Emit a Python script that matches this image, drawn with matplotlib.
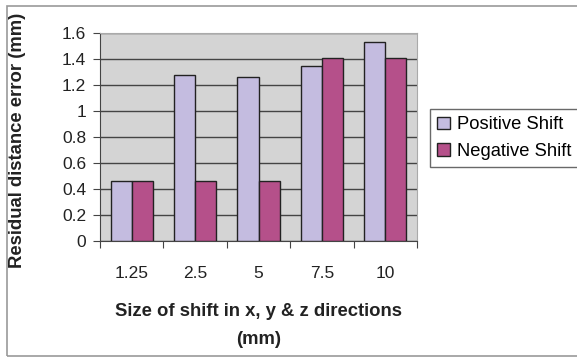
import matplotlib.pyplot as plt
import numpy as np
from matplotlib.patches import Rectangle

plt.rcParams['font.family'] = ['Liberation Sans', 'DejaVu Sans']

shift_sizes = ['1.25', '2.5', '5', '7.5', '10']
positive_shift = [0.46, 1.28, 1.26, 1.35, 1.53]
negative_shift = [0.46, 0.46, 0.46, 1.41, 1.41]

fig = plt.figure(figsize=(5.77, 3.58), dpi=100)
ax = fig.add_axes([100 / 577, 1 - 241 / 358, 317 / 577, 208 / 358])

x = np.arange(len(shift_sizes))
w = 1 / 3
ax.bar(x - w / 2, positive_shift, w, color='#c4bce0', edgecolor='#222222',
       linewidth=1, label='Positive Shift', zorder=3)
ax.bar(x + w / 2, negative_shift, w, color='#b5508a', edgecolor='#222222',
       linewidth=1, label='Negative Shift', zorder=3)

ax.set_facecolor('#d4d4d4')
ax.set_xlim(-0.5, len(shift_sizes) - 0.5)
ax.set_ylim(0, 1.6)
ax.set_yticks(np.arange(0, 1.61, 0.2))
ax.set_yticklabels(['0', '0.2', '0.4', '0.6', '0.8', '1', '1.2', '1.4', '1.6'])
ax.yaxis.grid(True, color='#444444', linewidth=1)
ax.set_axisbelow(True)

# category labels between boundary ticks
ax.set_xticks(np.arange(-0.5, len(shift_sizes)), minor=False)
ax.set_xticklabels([])
ax.set_xticks(x, minor=True)
ax.set_xticklabels(shift_sizes, minor=True)
ax.tick_params(axis='x', which='minor', length=0, pad=18, labelsize=12.5, labelcolor='#222222')
ax.tick_params(axis='x', which='major', length=5, color='#444444')
ax.tick_params(axis='y', length=5, color='#444444', labelsize=12.5, labelcolor='#222222', pad=5)

for side in ['top', 'right']:
    ax.spines[side].set_color('#aaaaaa')
ax.spines['left'].set_color('#444444')
ax.spines['bottom'].set_color('#444444')

ax.set_xlabel('Size of shift in x, y & z directions\n(mm)', fontsize=13.3,
              fontweight='bold', labelpad=16, color='#222222', linespacing=1.85)
fig.text(18 / 577, 1 - 140 / 358, 'Residual distance error (mm)', rotation=90,
         fontsize=13.3, fontweight='bold', color='#222222', ha='center', va='center')

leg = ax.legend(loc='center left', bbox_to_anchor=(430 / 577, 1 - 138 / 358),
                bbox_transform=fig.transFigure, frameon=True, fancybox=False,
                fontsize=13.2, handlelength=0.7, handleheight=0.7,
                handletextpad=0.35, borderpad=0.4, labelspacing=0.5,
                borderaxespad=0)
leg.get_frame().set_edgecolor('#444444')
leg.get_frame().set_linewidth(1)

# outer chart border
fig.patches.append(Rectangle((7 / 577, 2 / 358), 1.0, 1 - 8 / 358,
                             transform=fig.transFigure, fill=False,
                             edgecolor='#999999', linewidth=1.2))

fig.savefig('out.png', dpi=100)
